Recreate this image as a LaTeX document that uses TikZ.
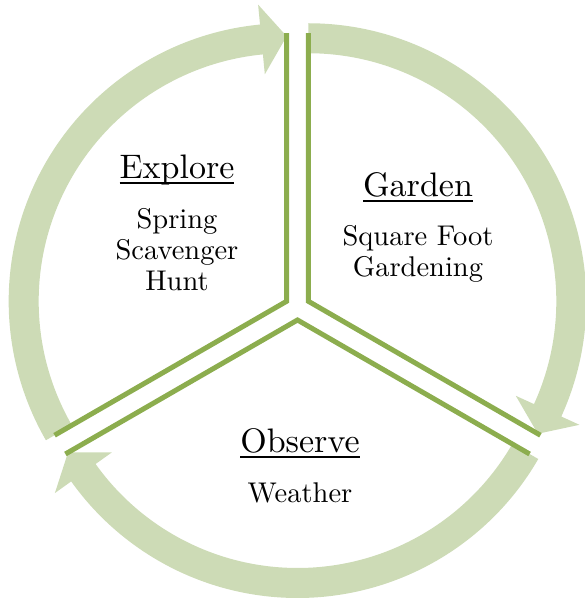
\documentclass[tikz,border=0pt]{standalone}
\usepackage{fontspec}
\setmainfont{lmroman10-regular}[Extension=.otf]
\usetikzlibrary{calc}
\definecolor{bandgreen}{RGB}{205,219,182}
\definecolor{linegreen}{RGB}{140,173,78}
\newcommand{\ulword}[1]{\setbox0\hbox{#1}\rlap{\rule[-5pt]{\wd0}{1.5pt}}\box0}
\newcommand{\cyclearrow}[3]{%
  \pgfmathsetmacro{\cyabase}{#3+5.5}%
  \fill[band] ([shift={(#1)}]#2:278) arc[start angle=#2, end angle=\cyabase, radius=278]
    -- ([shift={(#1)}]\cyabase:298) -- ([shift={(#1)}]#3:265)
    -- ([shift={(#1)}]\cyabase:228) -- ([shift={(#1)}]\cyabase:248)
    arc[start angle=\cyabase, end angle=#2, radius=248] -- cycle;}
\begin{document}
\begin{tikzpicture}[x=1pt,y=1pt,
  band/.style={fill=bandgreen, draw=none},
  edge/.style={draw=linegreen, line width=5pt, line join=miter},
  head/.style={font=\fontsize{34}{38}\selectfont, inner sep=0pt, anchor=base},
  body/.style={font=\fontsize{28.5}{31}\selectfont, inner sep=0pt, align=center, anchor=base}]
\useasboundingbox (0,0) rectangle (585,600);
\coordinate (E) at (286.67,298.75);
\coordinate (G) at (308.33,298.75);
\coordinate (O) at (297.5,280);
% circular arrows
\cyclearrow{E}{210}{90}
\cyclearrow{G}{90}{-30}
\cyclearrow{O}{330}{210}
% segment edges
\coordinate (E1) at ([shift={(E)}]210:268);
\coordinate (E2) at ([shift={(E)}]90:268);
\coordinate (G1) at ([shift={(G)}]90:268);
\coordinate (G2) at ([shift={(G)}]-30:268);
\coordinate (O1) at ([shift={(O)}]-30:268);
\coordinate (O2) at ([shift={(O)}]210:268);
\draw[edge] (E1) -- (E) -- (E2);
\draw[edge] (G1) -- (G) -- (G2);
\draw[edge] (O1) -- (O) -- (O2);
% texts
\node[head] (exploreH) at (177,421) {\ulword{Explore}};
\node[body] (exploreT) at (177,309) {Spring\\Scavenger\\Hunt};
\node[head] (gardenH) at (418,403) {\ulword{Garden}};
\node[body] (gardenT) at (418,323) {Square Foot\\Gardening};
\node[head] (observeH) at (300,147) {\ulword{Observe}};
\node[body] (observeT) at (300,97) {Weather};
\end{tikzpicture}
\end{document}
